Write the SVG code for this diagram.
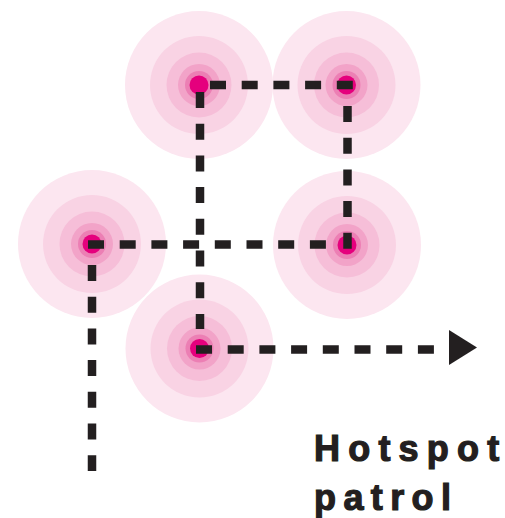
<svg xmlns="http://www.w3.org/2000/svg" xmlns:xlink="http://www.w3.org/1999/xlink" width="505" height="518" viewBox="0 0 505 518">
<style>
.r1{fill:#fce6f0}
.r2{fill:#f9d3e4}
.r3{fill:#f6bed8}
.r4{fill:#f2a3c8}
.r5{fill:#ec7fb4}
.r6{fill:#e5007d}
.dash{fill:none;stroke:#231f20;stroke-width:8.5;stroke-dasharray:16 15.7}
.lbl{font-family:"Liberation Sans",Arial,sans-serif;font-weight:bold;font-size:36px;fill:#231f20;stroke:#231f20;stroke-width:1.2px;letter-spacing:8.2px}
</style>
<defs>
<g id="spot">
<circle class="r1" r="74"/>
<circle class="r2" r="49"/>
<circle class="r3" r="32.5"/>
<circle class="r4" r="21"/>
<circle class="r5" r="14"/>
<circle class="r6" r="9.5"/>
</g>
</defs>
<g id="hotspot1"><use xlink:href="#spot" x="199" y="85"/></g>
<g id="hotspot2"><use xlink:href="#spot" x="346.5" y="85"/></g>
<g id="hotspot3"><use xlink:href="#spot" x="92" y="244"/></g>
<g id="hotspot4"><use xlink:href="#spot" x="347" y="245"/></g>
<g id="hotspot5"><use xlink:href="#spot" x="199.5" y="348.5"/></g>
<g id="connectors">
<path class="dash" d="M210 85 H353"/>
<path class="dash" d="M200 92 V329"/>
<path class="dash" d="M88 244.5 H328"/>
<path class="dash" d="M347.5 106 V249"/>
<path class="dash" d="M196 349.5 H435"/>
<path class="dash" d="M92 265 V471"/>
<polygon points="449,330 449,365 477,347.5" fill="#231f20"/>
</g>
<g id="label">
<text class="lbl" x="314" y="461">Hotspo<tspan style="letter-spacing:0">t</tspan></text>
<text class="lbl" x="314" y="510" style="letter-spacing:7.4px">patro<tspan style="letter-spacing:0">l</tspan></text>
</g>
</svg>
